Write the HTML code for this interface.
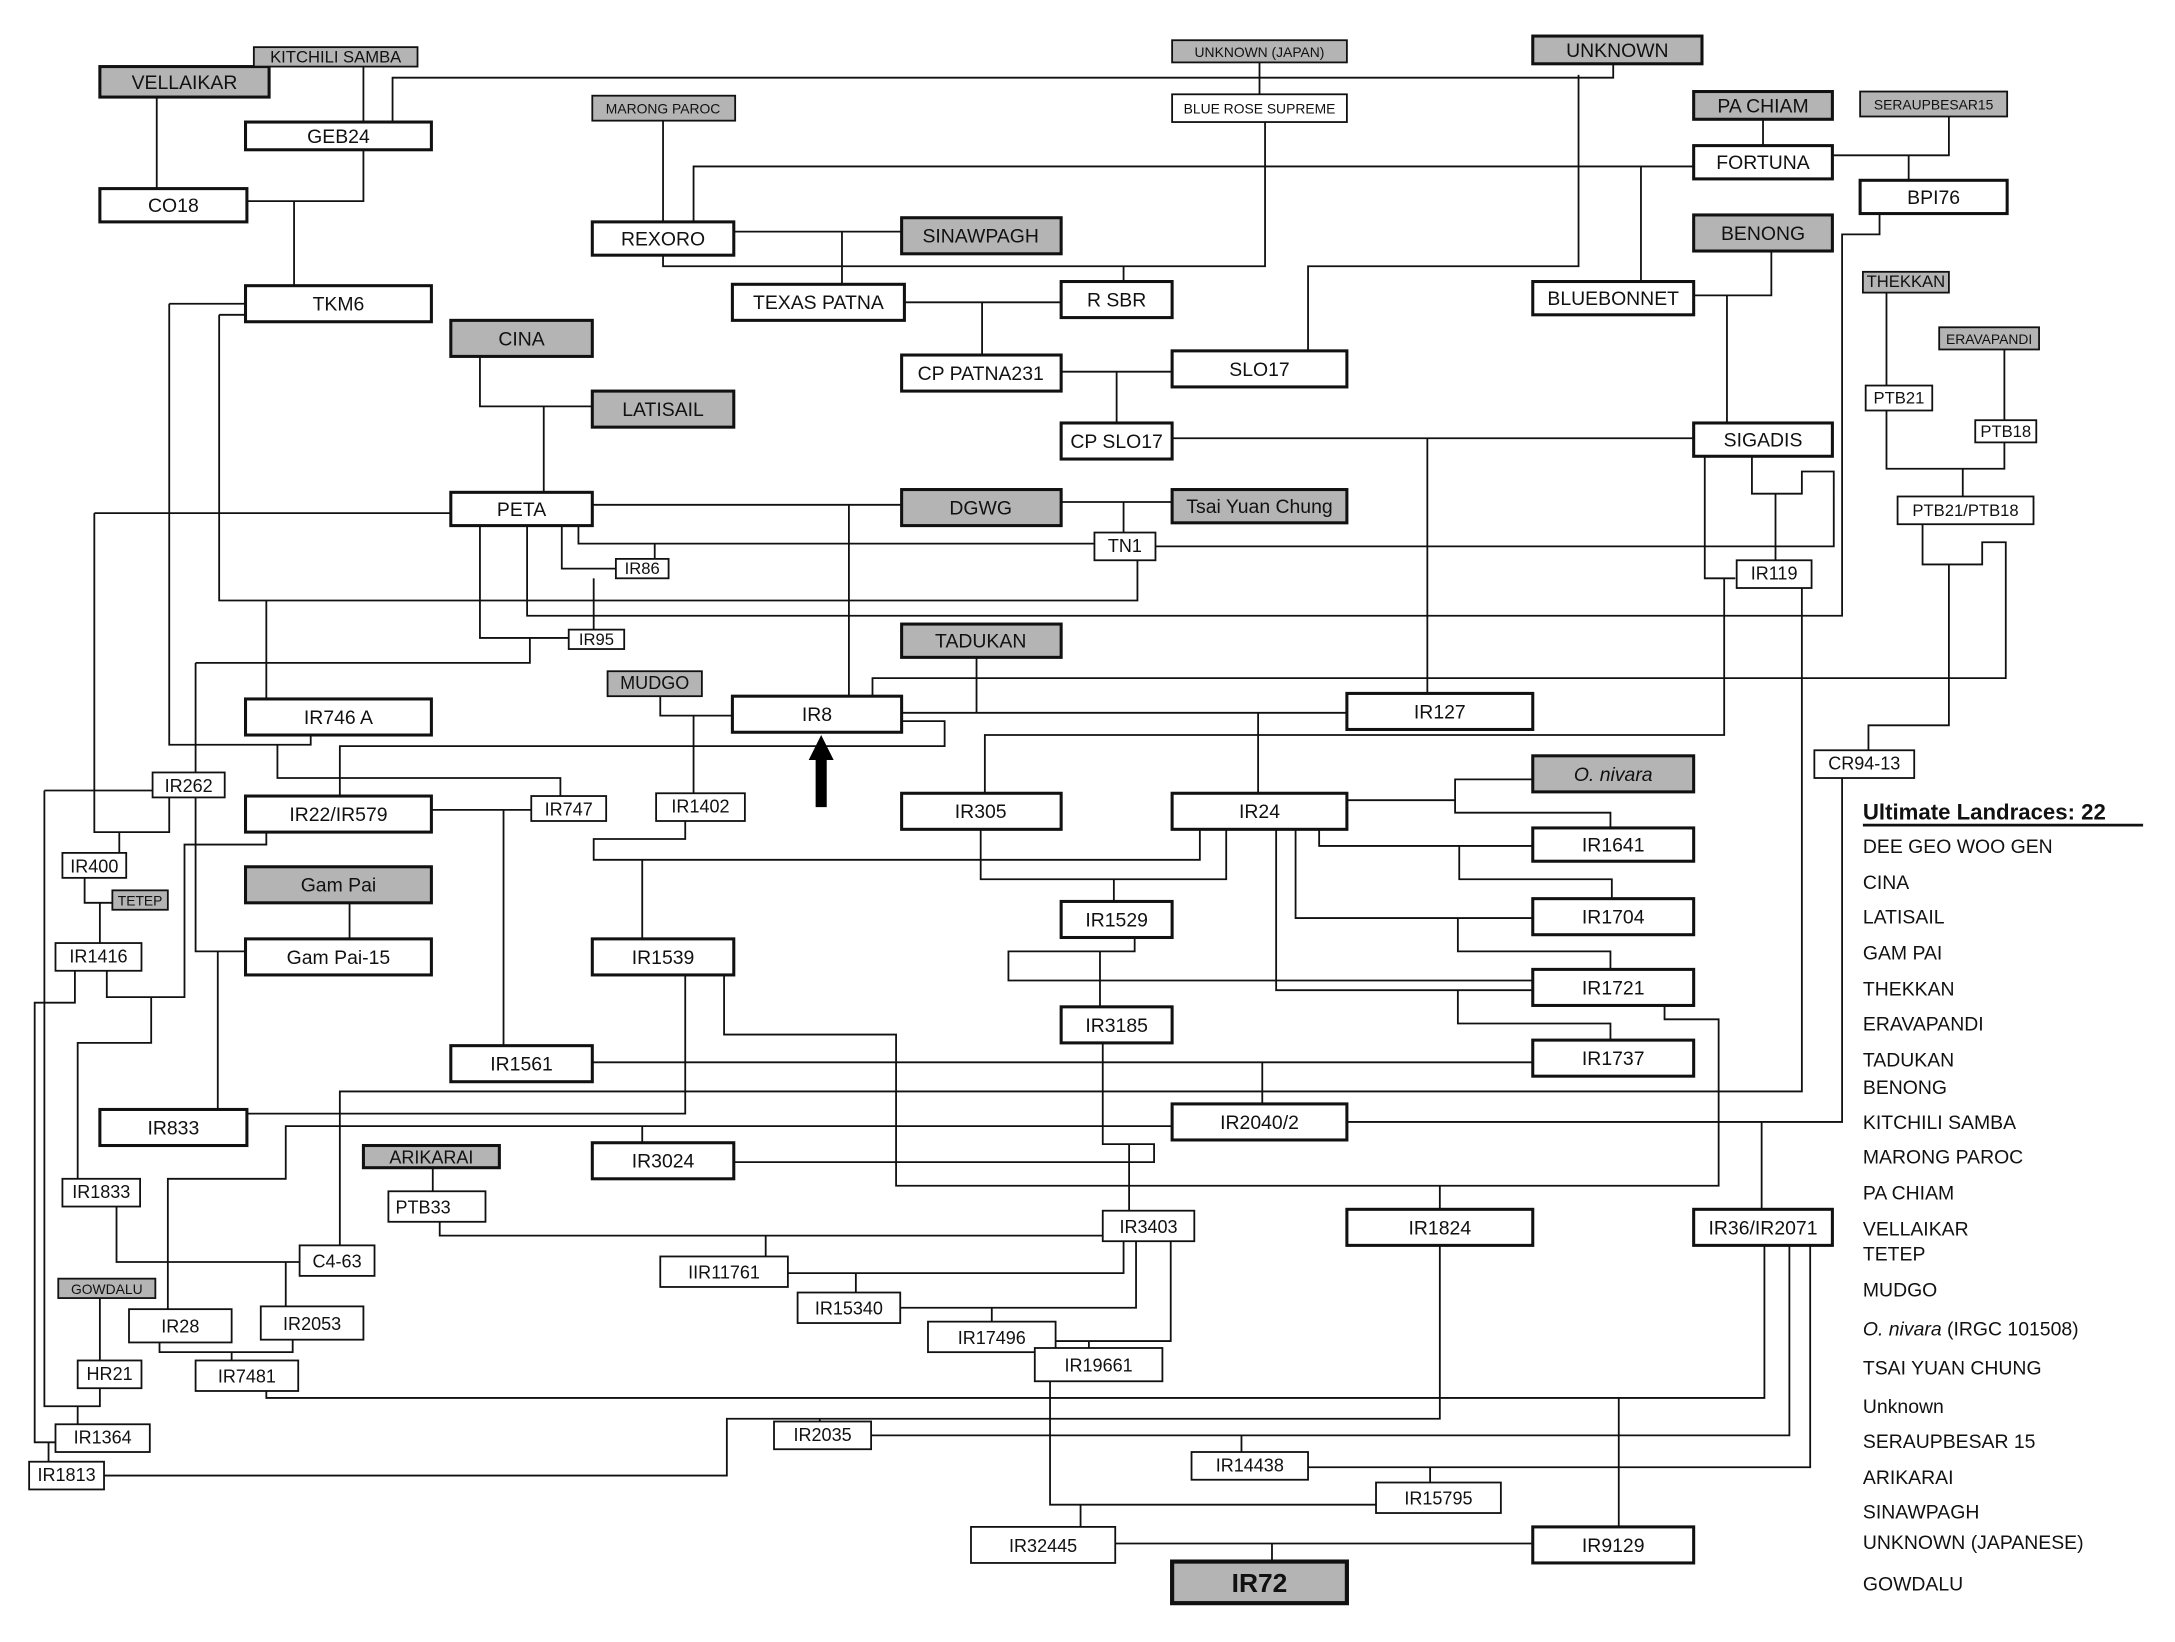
<!DOCTYPE html>
<html><head><meta charset="utf-8"><style>
html,body{margin:0;padding:0;background:#fff;}
svg{display:block;}
text{font-family:"Liberation Sans",Arial,sans-serif;fill:#111;}
.b rect{fill:#fff;stroke:#111;stroke-width:2.2;}
.g rect{fill:#b4b4b4;stroke:#111;stroke-width:2.2;}
.s rect{fill:#fff;stroke:#111;stroke-width:1.3;}
.sg rect{fill:#b4b4b4;stroke:#111;stroke-width:1.3;}
.b text,.g text{font-size:14px;text-anchor:middle;}
.s text,.sg text{font-size:12px;text-anchor:middle;}
.l{fill:none;stroke:#111;stroke-width:1.3;}
.lg text{font-size:14px;}
</style></head><body>
<svg width="2175" height="1642" viewBox="0 0 1568 1184" preserveAspectRatio="none" xmlns="http://www.w3.org/2000/svg">
<g class="l">
<path d="M283 88V56H1163V46"/>
<path d="M113 70V136"/>
<path d="M262 48V88"/>
<path d="M178 145H262V108"/>
<path d="M212 145V206"/>
<path d="M908 45V68"/>
<path d="M478 87V160"/>
<path d="M912 88V192H478V184"/>
<path d="M810 192V203"/>
<path d="M529 167H650M607 167V205"/>
<path d="M500 160V120H1221"/>
<path d="M1138 54V192H943V253"/>
<path d="M1183 120V203"/>
<path d="M1271 86V105"/>
<path d="M1321 112H1405V84M1376 112V130"/>
<path d="M380 379V444H1328V169H1355V154"/>
<path d="M1221 213H1277V181M1245 213V305"/>
<path d="M1360 211V338H1445V319M1445 252V303M1415 338V358"/>
<path d="M652 218H765M708 218V256"/>
<path d="M765 268H845M805 268V305"/>
<path d="M346 257V293H427M392 293V355"/>
<path d="M122 219H177M122 219V537H224V530"/>
<path d="M158 227H177M158 227V433H820V404"/>
<path d="M68 370H325M68 370V600H122V575M86 600V615"/>
<path d="M427 364H650M612 364V502"/>
<path d="M765 362H845M810 362V384"/>
<path d="M346 379V460H410"/>
<path d="M417 379V392H789M472 392V403"/>
<path d="M405 379V410H444"/>
<path d="M428 417V454"/>
<path d="M833 394H1322V340H1299V356H1263V329M1280 356V404"/>
<path d="M1229 329V417H1251M1243 417V530H710V572"/>
<path d="M845 316H1221M1029 316V500"/>
<path d="M141 478H382V460M141 478V686H177M157 686V800"/>
<path d="M32 570H110"/>
<path d="M192 433V504"/>
<path d="M200 537V561H404V574"/>
<path d="M245 574V538H681V520H650"/>
<path d="M629 502V489H1446V391H1429V407H1386V378"/>
<path d="M1405 407V523H1347V541"/>
<path d="M704 474V514"/>
<path d="M650 514H971M907 514V572"/>
<path d="M476 502V516H528M500 516V572"/>
<path d="M971 577H1049V562H1105M1049 577V586H1161V597"/>
<path d="M951 598V610H1105M1052 610V634H1162V648"/>
<path d="M934 598V662H1105M1051 662V686H1161V699"/>
<path d="M920 598V714H1105M1051 714V738H1161V750"/>
<path d="M865 598V620H428V605H494V592M463 620V677"/>
<path d="M884 598V634H707V598M803 634V650"/>
<path d="M818 676V686H727V707H1105M793 686V726"/>
<path d="M1200 725V735H1239V855H646V746H522V703"/>
<path d="M427 766H1105M910 766V796"/>
<path d="M245 898V787H1299V424"/>
<path d="M178 803H494V703"/>
<path d="M121 944V850H206V812H845"/>
<path d="M463 812V824"/>
<path d="M529 838H832V825H795V752M814 825V873"/>
<path d="M971 809H1328V561M1270 809V872"/>
<path d="M1038 855V872"/>
<path d="M317 881V891H795M552 891V906"/>
<path d="M810 895V918H568M617 918V932"/>
<path d="M819 895V943H649M715 943V953"/>
<path d="M844 895V967H761M785 967V972"/>
<path d="M1038 898V1023H524V1064H75M591 1023V1025"/>
<path d="M192 1003V1008H1272V898"/>
<path d="M628 1035H1290V898M895 1035V1047"/>
<path d="M943 1058H1305V898M1031 1058V1069"/>
<path d="M1167 1008V1101"/>
<path d="M757 996V1085H992M779 1085V1101"/>
<path d="M804 1113H1105M917 1113V1126"/>
<path d="M32 570V1014H72V1001M56 1014V1027"/>
<path d="M54 700V723H25V1040H41M35 1040V1054"/>
<path d="M77 700V719H133V609H192V600"/>
<path d="M109 719V752H56V850"/>
<path d="M61 633V651H81M72 651V680"/>
<path d="M84 870V910H216M206 910V942"/>
<path d="M72 936V981"/>
<path d="M115 968V975H211V966M167 975V981"/>
<path d="M311 584H383M363 584V754"/>
<path d="M252 651V677"/>
<path d="M312 842V859"/>
</g>
<path d="M592 530L583 548H588V582H596V548H601Z" fill="#000"/>

<g class="g"><rect x="72" y="48" width="122" height="22"/><text x="133" y="64">VELLAIKAR</text></g>
<g class="sg"><rect x="183" y="34" width="118" height="14"/><text x="242" y="45">KITCHILI SAMBA</text></g>
<g class="b"><rect x="177" y="88" width="134" height="20"/><text x="244" y="103">GEB24</text></g>
<g class="b"><rect x="72" y="136" width="106" height="24"/><text x="125" y="153">CO18</text></g>
<g class="sg"><rect x="845" y="29" width="126" height="16"/><text x="908" y="41" style="font-size:10px">UNKNOWN (JAPAN)</text></g>
<g class="s"><rect x="845" y="68" width="126" height="20"/><text x="908" y="82" style="font-size:10px">BLUE ROSE SUPREME</text></g>
<g class="g"><rect x="1105" y="26" width="122" height="20"/><text x="1166" y="41">UNKNOWN</text></g>
<g class="sg"><rect x="427" y="69" width="103" height="18"/><text x="478" y="82" style="font-size:10px">MARONG PAROC</text></g>
<g class="g"><rect x="1221" y="66" width="100" height="20"/><text x="1271" y="81">PA CHIAM</text></g>
<g class="sg"><rect x="1341" y="66" width="106" height="18"/><text x="1394" y="79" style="font-size:10px">SERAUPBESAR15</text></g>
<g class="b"><rect x="1221" y="105" width="100" height="24"/><text x="1271" y="122">FORTUNA</text></g>
<g class="b"><rect x="1341" y="130" width="106" height="24"/><text x="1394" y="147">BPI76</text></g>
<g class="b"><rect x="427" y="160" width="102" height="24"/><text x="478" y="177">REXORO</text></g>
<g class="g"><rect x="650" y="157" width="115" height="26"/><text x="707" y="175">SINAWPAGH</text></g>
<g class="g"><rect x="1221" y="155" width="100" height="26"/><text x="1271" y="173">BENONG</text></g>
<g class="b"><rect x="528" y="205" width="124" height="26"/><text x="590" y="223">TEXAS PATNA</text></g>
<g class="b"><rect x="765" y="203" width="80" height="26"/><text x="805" y="221">R SBR</text></g>
<g class="b"><rect x="177" y="206" width="134" height="26"/><text x="244" y="224">TKM6</text></g>
<g class="b"><rect x="1105" y="203" width="116" height="24"/><text x="1163" y="220">BLUEBONNET</text></g>
<g class="sg"><rect x="1343" y="196" width="62" height="15"/><text x="1374" y="207">THEKKAN</text></g>
<g class="g"><rect x="325" y="231" width="102" height="26"/><text x="376" y="249">CINA</text></g>
<g class="sg"><rect x="1398" y="236" width="72" height="16"/><text x="1434" y="248" style="font-size:10px">ERAVAPANDI</text></g>
<g class="b"><rect x="650" y="256" width="115" height="26"/><text x="707" y="274">CP PATNA231</text></g>
<g class="b"><rect x="845" y="253" width="126" height="26"/><text x="908" y="271">SLO17</text></g>
<g class="g"><rect x="427" y="282" width="102" height="26"/><text x="478" y="300">LATISAIL</text></g>
<g class="s"><rect x="1345" y="278" width="48" height="18"/><text x="1369" y="291">PTB21</text></g>
<g class="b"><rect x="765" y="305" width="80" height="26"/><text x="805" y="323">CP SLO17</text></g>
<g class="b"><rect x="1221" y="305" width="100" height="24"/><text x="1271" y="322">SIGADIS</text></g>
<g class="s"><rect x="1424" y="303" width="44" height="16"/><text x="1446" y="315">PTB18</text></g>
<g class="b"><rect x="325" y="355" width="102" height="24"/><text x="376" y="372">PETA</text></g>
<g class="g"><rect x="650" y="353" width="115" height="26"/><text x="707" y="371">DGWG</text></g>
<g class="g"><rect x="845" y="353" width="126" height="24"/><text x="908" y="370">Tsai Yuan Chung</text></g>
<g class="s"><rect x="1368" y="358" width="98" height="20"/><text x="1417" y="372">PTB21/PTB18</text></g>
<g class="s"><rect x="789" y="384" width="44" height="20"/><text x="811" y="398" style="font-size:13px">TN1</text></g>
<g class="s"><rect x="444" y="403" width="38" height="14"/><text x="463" y="414">IR86</text></g>
<g class="s"><rect x="1252" y="404" width="54" height="20"/><text x="1279" y="418" style="font-size:13px">IR119</text></g>
<g class="s"><rect x="410" y="454" width="40" height="14"/><text x="430" y="465">IR95</text></g>
<g class="g"><rect x="650" y="450" width="115" height="24"/><text x="707" y="467">TADUKAN</text></g>
<g class="sg"><rect x="438" y="484" width="68" height="18"/><text x="472" y="497" style="font-size:13px">MUDGO</text></g>
<g class="b"><rect x="528" y="502" width="122" height="26"/><text x="589" y="520">IR8</text></g>
<g class="b"><rect x="177" y="504" width="134" height="26"/><text x="244" y="522">IR746 A</text></g>
<g class="b"><rect x="971" y="500" width="134" height="26"/><text x="1038" y="518">IR127</text></g>
<g class="s"><rect x="1308" y="541" width="72" height="20"/><text x="1344" y="555" style="font-size:13px">CR94-13</text></g>
<g class="s"><rect x="110" y="557" width="52" height="18"/><text x="136" y="571" style="font-size:13px">IR262</text></g>
<g class="g"><rect x="1105" y="545" width="116" height="26"/><text x="1163" y="563" font-style="italic">O. nivara</text></g>
<g class="b"><rect x="177" y="574" width="134" height="26"/><text x="244" y="592">IR22/IR579</text></g>
<g class="s"><rect x="383" y="574" width="54" height="18"/><text x="410" y="588" style="font-size:13px">IR747</text></g>
<g class="s"><rect x="473" y="572" width="64" height="20"/><text x="505" y="586" style="font-size:13px">IR1402</text></g>
<g class="b"><rect x="650" y="572" width="115" height="26"/><text x="707" y="590">IR305</text></g>
<g class="b"><rect x="845" y="572" width="126" height="26"/><text x="908" y="590">IR24</text></g>
<g class="s"><rect x="45" y="615" width="46" height="18"/><text x="68" y="629" style="font-size:13px">IR400</text></g>
<g class="b"><rect x="1105" y="597" width="116" height="24"/><text x="1163" y="614">IR1641</text></g>
<g class="g"><rect x="177" y="625" width="134" height="26"/><text x="244" y="643">Gam Pai</text></g>
<g class="sg"><rect x="81" y="642" width="40" height="14"/><text x="101" y="653" style="font-size:10px">TETEP</text></g>
<g class="s"><rect x="40" y="680" width="62" height="20"/><text x="71" y="694" style="font-size:13px">IR1416</text></g>
<g class="b"><rect x="177" y="677" width="134" height="26"/><text x="244" y="695">Gam Pai-15</text></g>
<g class="b"><rect x="427" y="677" width="102" height="26"/><text x="478" y="695">IR1539</text></g>
<g class="b"><rect x="765" y="650" width="80" height="26"/><text x="805" y="668">IR1529</text></g>
<g class="b"><rect x="1105" y="648" width="116" height="26"/><text x="1163" y="666">IR1704</text></g>
<g class="b"><rect x="1105" y="699" width="116" height="26"/><text x="1163" y="717">IR1721</text></g>
<g class="b"><rect x="765" y="726" width="80" height="26"/><text x="805" y="744">IR3185</text></g>
<g class="b"><rect x="325" y="754" width="102" height="26"/><text x="376" y="772">IR1561</text></g>
<g class="b"><rect x="1105" y="750" width="116" height="26"/><text x="1163" y="768">IR1737</text></g>
<g class="b"><rect x="72" y="800" width="106" height="26"/><text x="125" y="818">IR833</text></g>
<g class="b"><rect x="845" y="796" width="126" height="26"/><text x="908" y="814">IR2040/2</text></g>
<g class="b"><rect x="427" y="824" width="102" height="26"/><text x="478" y="842">IR3024</text></g>
<g class="g"><rect x="262" y="826" width="98" height="16"/><text x="311" y="839" style="font-size:13px">ARIKARAI</text></g>
<g class="s"><rect x="45" y="850" width="56" height="20"/><text x="73" y="864" style="font-size:13px">IR1833</text></g>
<g class="s"><rect x="280" y="859" width="70" height="22"/><text x="305" y="875" style="font-size:13px">PTB33</text></g>
<g class="s"><rect x="795" y="873" width="66" height="22"/><text x="828" y="889" style="font-size:13px">IR3403</text></g>
<g class="b"><rect x="971" y="872" width="134" height="26"/><text x="1038" y="890">IR1824</text></g>
<g class="b"><rect x="1221" y="872" width="100" height="26"/><text x="1271" y="890">IR36/IR2071</text></g>
<g class="s"><rect x="216" y="898" width="54" height="22"/><text x="243" y="914" style="font-size:13px">C4-63</text></g>
<g class="s"><rect x="476" y="906" width="92" height="22"/><text x="522" y="922" style="font-size:13px">IIR11761</text></g>
<g class="sg"><rect x="42" y="922" width="70" height="14"/><text x="77" y="933" style="font-size:10px">GOWDALU</text></g>
<g class="s"><rect x="93" y="944" width="74" height="24"/><text x="130" y="961" style="font-size:13px">IR28</text></g>
<g class="s"><rect x="188" y="942" width="74" height="24"/><text x="225" y="959" style="font-size:13px">IR2053</text></g>
<g class="s"><rect x="575" y="932" width="74" height="22"/><text x="612" y="948" style="font-size:13px">IR15340</text></g>
<g class="s"><rect x="669" y="953" width="92" height="22"/><text x="715" y="969" style="font-size:13px">IR17496</text></g>
<g class="s"><rect x="56" y="981" width="46" height="20"/><text x="79" y="995" style="font-size:13px">HR21</text></g>
<g class="s"><rect x="141" y="981" width="74" height="22"/><text x="178" y="997" style="font-size:13px">IR7481</text></g>
<g class="s"><rect x="746" y="972" width="92" height="24"/><text x="792" y="989" style="font-size:13px">IR19661</text></g>
<g class="s"><rect x="40" y="1027" width="68" height="20"/><text x="74" y="1041" style="font-size:13px">IR1364</text></g>
<g class="s"><rect x="558" y="1025" width="70" height="20"/><text x="593" y="1039" style="font-size:13px">IR2035</text></g>
<g class="s"><rect x="859" y="1047" width="84" height="20"/><text x="901" y="1061" style="font-size:13px">IR14438</text></g>
<g class="s"><rect x="21" y="1054" width="54" height="20"/><text x="48" y="1068" style="font-size:13px">IR1813</text></g>
<g class="s"><rect x="992" y="1069" width="90" height="22"/><text x="1037" y="1085" style="font-size:13px">IR15795</text></g>
<g class="s"><rect x="700" y="1101" width="104" height="26"/><text x="752" y="1119" style="font-size:13px">IR32445</text></g>
<g class="b"><rect x="1105" y="1101" width="116" height="26"/><text x="1163" y="1119">IR9129</text></g>
<g class="g"><rect x="845" y="1126" width="126" height="30" style="stroke-width:3"/><text x="908" y="1148" style="font-size:19px;font-weight:bold">IR72</text></g>

<g class="lg">
<text x="1343" y="591" style="font-size:16px;font-weight:bold">Ultimate Landraces: 22</text>
<line x1="1343" y1="595" x2="1545" y2="595" stroke="#111" stroke-width="2"/>
<text x="1343" y="615">DEE GEO WOO GEN</text>
<text x="1343" y="641">CINA</text>
<text x="1343" y="666">LATISAIL</text>
<text x="1343" y="692">GAM PAI</text>
<text x="1343" y="718">THEKKAN</text>
<text x="1343" y="743">ERAVAPANDI</text>
<text x="1343" y="769">TADUKAN</text>
<text x="1343" y="789">BENONG</text>
<text x="1343" y="814">KITCHILI SAMBA</text>
<text x="1343" y="839">MARONG PAROC</text>
<text x="1343" y="865">PA CHIAM</text>
<text x="1343" y="891">VELLAIKAR</text>
<text x="1343" y="909">TETEP</text>
<text x="1343" y="935">MUDGO</text>
<text x="1343" y="963"><tspan font-style="italic">O. nivara</tspan>  (IRGC 101508)</text>
<text x="1343" y="991">TSAI YUAN CHUNG</text>
<text x="1343" y="1019">Unknown</text>
<text x="1343" y="1044">SERAUPBESAR 15</text>
<text x="1343" y="1070">ARIKARAI</text>
<text x="1343" y="1095">SINAWPAGH</text>
<text x="1343" y="1117">UNKNOWN (JAPANESE)</text>
<text x="1343" y="1147">GOWDALU</text>
</g>
</svg>
</body></html>
